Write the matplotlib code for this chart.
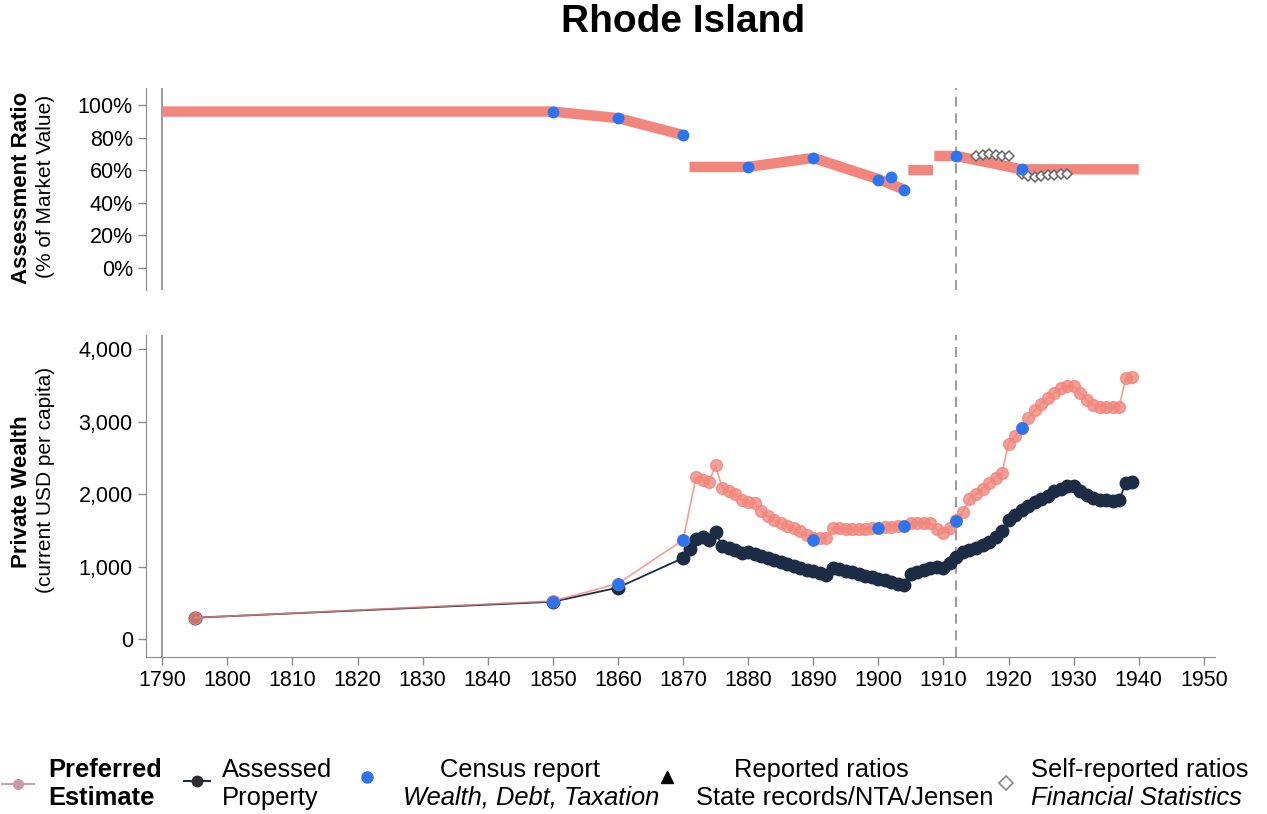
import numpy as np
import matplotlib
matplotlib.use("Agg")
import matplotlib.pyplot as plt

plt.rcParams['font.family'] = ['Liberation Sans', 'DejaVu Sans']

nan = np.nan

# --- top panel: assessment ratio (% of market value), gaps marked by nan
ratio_years = [1790, 1850, 1860, 1870, nan,
               1871, 1880, 1890, 1900, 1904, nan,
               1904.6, 1908.4, nan,
               1908.6, 1912, 1922, 1940]
ratio_pref = [96, 96, 92, 81.6, nan,
              62, 62, 67.5, 54.5, 48, nan,
              60, 60, nan,
              68.7, 68.7, 60.5, 60.5]

census_ratio_years = [1850, 1860, 1870, 1880, 1890, 1900, 1902, 1904, 1912, 1922]
census_ratio = [96, 92, 81.6, 62, 67.2, 54, 56, 48, 68.7, 61]

self_years_a = [1915, 1916, 1917, 1918, 1919, 1920]
self_ratio_a = [68.5, 69.5, 70, 69.5, 69, 68.5]
self_years_b = [1922, 1923, 1924, 1925, 1926, 1927, 1928, 1929]
self_ratio_b = [57.5, 56.5, 56, 56.5, 57, 57, 57.5, 57.5]

# --- bottom panel: private wealth (current USD per capita)
pref_years = [1795, 1850, 1860, 1870,
              1872, 1873, 1874, 1875, 1876, 1877, 1878, 1879, 1880,
              1881, 1882, 1883, 1884, 1885, 1886, 1887, 1888, 1889, 1890,
              1891, 1892, 1893, 1894, 1895, 1896, 1897, 1898, 1899, 1900,
              1901, 1902, 1903, 1904, 1905, 1906, 1907, 1908, 1909, 1910,
              1911, 1912, 1913, 1914, 1915, 1916, 1917, 1918, 1919, 1920,
              1921, 1922, 1923, 1924, 1925, 1926, 1927, 1928, 1929, 1930,
              1931, 1932, 1933, 1934, 1935, 1936, 1937, 1938, 1939]
pref_wealth = [300, 530, 770, 1371,
               2240, 2200, 2175, 2400, 2090, 2040, 2000, 1920, 1890,
               1880, 1770, 1700, 1640, 1600, 1560, 1535, 1490, 1440, 1400,
               1400, 1400, 1530, 1530, 1525, 1525, 1523, 1525, 1530, 1537,
               1545, 1555, 1560, 1565, 1600, 1610, 1605, 1600, 1520, 1470,
               1540, 1640, 1760, 1930, 2000, 2080, 2160, 2230, 2300, 2700,
               2800, 2910, 3050, 3160, 3250, 3330, 3400, 3460, 3500, 3490,
               3400, 3300, 3230, 3210, 3200, 3200, 3210, 3600, 3620]

assessed_years = [1795, 1850, 1860, 1870,
                  1871, 1872, 1873, 1874, 1875, 1876, 1877, 1878, 1879, 1880,
                  1881, 1882, 1883, 1884, 1885, 1886, 1887, 1888, 1889, 1890,
                  1891, 1892, 1893, 1894, 1895, 1896, 1897, 1898, 1899, 1900,
                  1901, 1902, 1903, 1904, 1905, 1906, 1907, 1908, 1909, 1910,
                  1911, 1912, 1913, 1914, 1915, 1916, 1917, 1918, 1919, 1920,
                  1921, 1922, 1923, 1924, 1925, 1926, 1927, 1928, 1929, 1930,
                  1931, 1932, 1933, 1934, 1935, 1936, 1937, 1938, 1939]
assessed_wealth = [300, 520, 715, 1123,
                   1250, 1390, 1410, 1375, 1480, 1290, 1260, 1240, 1195, 1210,
                   1180, 1150, 1120, 1090, 1070, 1040, 1010, 985, 960, 940,
                   915, 890, 985, 965, 945, 925, 900, 880, 860, 840,
                   815, 795, 770, 750, 900, 930, 960, 985, 1005, 980,
                   1060, 1140, 1200, 1235, 1260, 1300, 1350, 1410, 1500, 1650,
                   1720, 1780, 1840, 1890, 1930, 1980, 2040, 2080, 2110, 2115,
                   2050, 1990, 1950, 1925, 1920, 1915, 1925, 2150, 2175]

census_wealth_years = [1850, 1860, 1870, 1890, 1900, 1904, 1912, 1922]
census_wealth = [520, 760, 1371, 1371, 1537, 1564, 1637, 2911]

SALMON = '#f2867c'
DARK = '#1c2c44'
BLUE = '#2b74f2'
GRAY = '#8a8a8a'

fig = plt.figure(figsize=(12.67, 8.14), dpi=100)
ax1 = fig.add_axes([0.1152, 0.6437, 0.8437, 0.248])
ax2 = fig.add_axes([0.1152, 0.1929, 0.8437, 0.3956])

for ax in (ax1, ax2):
    ax.axvline(1790, color=GRAY, lw=1.2, zorder=1)
    ax.axvline(1912, color=GRAY, lw=1.2, ls=(0, (6, 4)), zorder=1)
    ax.set_xlim(1787.5, 1951.7)
    for s in ('top', 'right'):
        ax.spines[s].set_visible(False)
    ax.spines['left'].set_color(GRAY)
    ax.spines['bottom'].set_color(GRAY)
    ax.tick_params(colors=GRAY, labelcolor='black', labelsize=15.5, length=6, width=1)

# top panel
ax1.plot(ratio_years, ratio_pref, color=SALMON, lw=7.5, solid_capstyle='butt', zorder=2)
ax1.plot(self_years_a, self_ratio_a, ls='none', marker='D', ms=5.5, mfc='white',
         mec='#666666', mew=1.1, zorder=3)
ax1.plot(self_years_b, self_ratio_b, ls='none', marker='D', ms=5.5, mfc='white',
         mec='#666666', mew=1.1, zorder=3)
ax1.plot(census_ratio_years, census_ratio, ls='none', marker='o', ms=7.5,
         color=BLUE, zorder=4)
ax1.set_ylim(-13.7, 110.4)
ax1.set_yticks([0, 20, 40, 60, 80, 100])
ax1.set_yticklabels(['0%', '20%', '40%', '60%', '80%', '100%'])
ax1.spines['bottom'].set_visible(False)
ax1.tick_params(axis='x', bottom=False, labelbottom=False)

# bottom panel
ax2.plot(assessed_years, assessed_wealth, color=DARK, lw=1.3, marker='o', ms=9,
         zorder=2)
ax2.plot(pref_years, pref_wealth, color=SALMON, lw=1.2, marker='o', ms=8.5,
         mec=SALMON, alpha=0.8, zorder=3)
ax2.plot(census_wealth_years, census_wealth, ls='none', marker='o', ms=8,
         color=BLUE, zorder=4)
ax2.set_ylim(-241, 4197)
ax2.set_yticks([0, 1000, 2000, 3000, 4000])
ax2.set_yticklabels(['0', '1,000', '2,000', '3,000', '4,000'])
ax2.set_xticks(range(1790, 1951, 10))

# axis titles
fig.text(22 / 1267, 1 - 188 / 814, 'Assessment Ratio', rotation=90, ha='center',
         va='center', fontsize=16, fontweight='bold')
fig.text(46 / 1267, 1 - 186 / 814, '(% of Market Value)', rotation=90, ha='center',
         va='center', fontsize=15)
fig.text(22 / 1267, 1 - 492 / 814, 'Private Wealth', rotation=90, ha='center',
         va='center', fontsize=16, fontweight='bold')
fig.text(46 / 1267, 1 - 480 / 814, '(current USD per capita)', rotation=90,
         ha='center', va='center', fontsize=15)

fig.text(683 / 1267, 1 - 22 / 814, 'Rhode Island', ha='center', va='center',
         fontsize=28, fontweight='bold')

# legend row, laid out in pixel units
lax = fig.add_axes([0, 0, 1, 1], zorder=-1)
lax.set_xlim(0, 1267)
lax.set_ylim(814, 0)
lax.axis('off')
fs = 18.4
y1, y2 = 770, 798
lax.plot([2, 34], [784, 784], color='#c9a0aa', lw=1.5)
lax.plot([18], [784], marker='o', ms=7, color='#c99aa5')
lax.text(48, y1, 'Preferred', fontsize=fs, fontweight='bold', va='center')
lax.text(48, y2, 'Estimate', fontsize=fs, fontweight='bold', va='center')
lax.plot([184, 210], [781, 781], color=DARK, lw=1.5)
lax.plot([197], [781], marker='o', ms=7.5, color='#2e2e2e')
lax.text(222, y1, 'Assessed', fontsize=fs, va='center')
lax.text(222, y2, 'Property', fontsize=fs, va='center')
lax.plot([367], [777], marker='o', ms=8, color=BLUE)
lax.text(520, y1, 'Census report', fontsize=fs, va='center', ha='center')
lax.text(531, y2, 'Wealth, Debt, Taxation', fontsize=fs, va='center', ha='center',
         style='italic')
lax.plot([667], [777], marker='^', ms=9, color='black')
lax.text(821, y1, 'Reported ratios', fontsize=fs, va='center', ha='center')
lax.text(845, y2, 'State records/NTA/Jensen', fontsize=fs, va='center', ha='center')
lax.plot([1006], [783], marker='D', ms=7, mfc='white', mec='#8a8a8a', mew=1.2)
lax.text(1031, y1, 'Self-reported ratios', fontsize=fs, va='center')
lax.text(1031, y2, 'Financial Statistics', fontsize=fs, va='center', style='italic')

fig.savefig('out.png', dpi=100)
